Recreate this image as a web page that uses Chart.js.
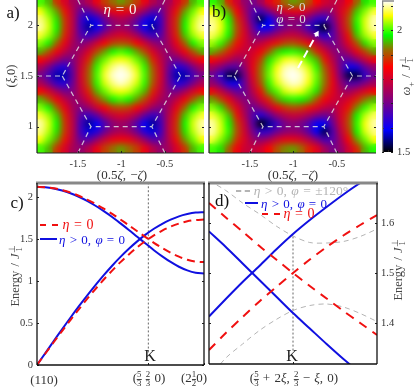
<!DOCTYPE html>
<html>
<head>
<meta charset="utf-8">
<script src="https://cdn.jsdelivr.net/npm/chart.js@4"></script>
<style>
  html, body { margin: 0; padding: 0; background: #fff; }
  #page { position: relative; width: 415px; height: 391px; overflow: hidden; font-family: "Liberation Serif", serif; }
  canvas { position: absolute; display: block; }
  .t { position: absolute; white-space: nowrap; transform: translate(-50%, -50%); line-height: 1; color: #333; word-spacing: 1px; }
  .fr, .su { display: inline-block; vertical-align: middle; text-align: center; line-height: 0.85; }
  .fr i, .su i { display: block; font-style: normal; font-size: 0.68em; }
  .fr i:first-child { border-bottom: 1px solid #444; }
  .key { position: absolute; height: 0; }
</style>
</head>
<body>
<div id="page">
  <canvas id="mapA" width="208" height="180" style="left:0;top:0"></canvas>
  <canvas id="mapB" width="178" height="180" style="left:205px;top:0"></canvas>
  <canvas id="bar" width="33" height="165" style="left:382px;top:0"></canvas>
  <canvas id="cutC" width="208" height="213" style="left:0;top:178px"></canvas>
  <canvas id="cutD" width="210" height="213" style="left:205px;top:178px"></canvas>
</div>
<script>
// colour map grid, one cell per column/row
const xCells = [-1.92,-1.828,-1.736,-1.644,-1.552,-1.46,-1.368,-1.276,-1.184,-1.092,-1,-0.908,-0.816,-0.724,-0.632,-0.54,-0.448,-0.356,-0.264,-0.172,-0.08];
const yCells = [2.213,2.134,2.055,1.975,1.896,1.817,1.737,1.658,1.579,1.5,1.421,1.342,1.263,1.183,1.104,1.025,0.945,0.866,0.787];

const heatA = [
  [2.00,1.95,1.88,1.81,1.75,1.73,1.77,1.83,1.89,1.92,1.94,1.92,1.89,1.83,1.77,1.73,1.75,1.81,1.88,1.95,2.00],
  [2.06,2.01,1.94,1.86,1.77,1.68,1.67,1.73,1.79,1.83,1.84,1.83,1.79,1.73,1.67,1.68,1.77,1.86,1.94,2.01,2.06],
  [2.09,2.04,1.97,1.88,1.78,1.65,1.58,1.62,1.69,1.74,1.76,1.74,1.69,1.62,1.58,1.65,1.78,1.88,1.97,2.04,2.09],
  [2.10,2.05,1.98,1.88,1.78,1.65,1.55,1.59,1.66,1.72,1.74,1.72,1.66,1.59,1.55,1.65,1.78,1.88,1.98,2.05,2.10],
  [2.07,2.03,1.96,1.87,1.77,1.67,1.64,1.68,1.75,1.79,1.81,1.79,1.75,1.68,1.64,1.67,1.77,1.87,1.96,2.03,2.07],
  [2.02,1.98,1.91,1.83,1.75,1.71,1.74,1.80,1.85,1.89,1.90,1.89,1.85,1.80,1.74,1.71,1.75,1.83,1.91,1.98,2.02],
  [1.95,1.90,1.84,1.78,1.73,1.75,1.81,1.89,1.94,1.98,2.00,1.98,1.94,1.89,1.81,1.75,1.73,1.78,1.84,1.90,1.95],
  [1.85,1.81,1.75,1.70,1.71,1.78,1.87,1.95,2.01,2.05,2.06,2.05,2.01,1.95,1.87,1.78,1.71,1.70,1.75,1.81,1.85],
  [1.76,1.70,1.64,1.62,1.69,1.80,1.90,1.99,2.05,2.09,2.11,2.09,2.05,1.99,1.90,1.80,1.69,1.62,1.64,1.70,1.76],
  [1.70,1.65,1.56,1.56,1.68,1.81,1.91,2.00,2.07,2.11,2.12,2.11,2.07,2.00,1.91,1.81,1.68,1.56,1.56,1.65,1.70],
  [1.76,1.70,1.64,1.62,1.69,1.80,1.90,1.99,2.05,2.09,2.11,2.09,2.05,1.99,1.90,1.80,1.69,1.62,1.64,1.70,1.76],
  [1.85,1.81,1.75,1.70,1.71,1.78,1.87,1.95,2.01,2.05,2.06,2.05,2.01,1.95,1.87,1.78,1.71,1.70,1.75,1.81,1.85],
  [1.95,1.90,1.84,1.78,1.73,1.75,1.81,1.89,1.94,1.98,2.00,1.98,1.94,1.89,1.81,1.75,1.73,1.78,1.84,1.90,1.95],
  [2.02,1.98,1.91,1.83,1.75,1.71,1.74,1.80,1.85,1.89,1.90,1.89,1.85,1.80,1.74,1.71,1.75,1.83,1.91,1.98,2.02],
  [2.07,2.03,1.96,1.87,1.77,1.67,1.64,1.68,1.75,1.79,1.81,1.79,1.75,1.68,1.64,1.67,1.77,1.87,1.96,2.03,2.07],
  [2.10,2.05,1.98,1.88,1.78,1.65,1.55,1.59,1.66,1.72,1.74,1.72,1.66,1.59,1.55,1.65,1.78,1.88,1.98,2.05,2.10],
  [2.09,2.04,1.97,1.88,1.78,1.65,1.58,1.62,1.69,1.74,1.76,1.74,1.69,1.62,1.58,1.65,1.78,1.88,1.97,2.04,2.09],
  [2.06,2.01,1.94,1.86,1.77,1.68,1.67,1.73,1.79,1.83,1.84,1.83,1.79,1.73,1.67,1.68,1.77,1.86,1.94,2.01,2.06],
  [2.00,1.95,1.88,1.81,1.75,1.73,1.77,1.83,1.89,1.92,1.94,1.92,1.89,1.83,1.77,1.73,1.75,1.81,1.88,1.95,2.00]
];

const heatB = [
  [1.99,1.95,1.87,1.80,1.73,1.70,1.75,1.82,1.87,1.92,1.94,1.93,1.90,1.85,1.80,1.78,1.79,1.84,1.91,1.97,2.00],
  [2.06,2.01,1.94,1.85,1.75,1.67,1.65,1.71,1.77,1.81,1.83,1.83,1.80,1.75,1.72,1.74,1.81,1.88,1.96,2.02,2.07],
  [2.09,2.05,1.98,1.88,1.78,1.66,1.52,1.59,1.67,1.72,1.73,1.72,1.69,1.64,1.63,1.70,1.80,1.90,1.99,2.05,2.10],
  [2.10,2.06,1.99,1.90,1.80,1.69,1.59,1.59,1.66,1.70,1.72,1.70,1.64,1.55,1.50,1.67,1.79,1.89,1.98,2.05,2.10],
  [2.08,2.04,1.98,1.89,1.81,1.72,1.69,1.71,1.75,1.78,1.79,1.77,1.73,1.67,1.62,1.67,1.76,1.86,1.96,2.03,2.07],
  [2.03,1.99,1.93,1.86,1.80,1.76,1.78,1.82,1.86,1.89,1.90,1.88,1.84,1.78,1.72,1.69,1.74,1.82,1.90,1.97,2.02],
  [1.95,1.92,1.87,1.81,1.78,1.80,1.84,1.90,1.96,1.98,1.99,1.97,1.94,1.87,1.80,1.73,1.71,1.76,1.83,1.89,1.94],
  [1.85,1.82,1.78,1.74,1.76,1.82,1.89,1.97,2.02,2.06,2.07,2.05,2.00,1.95,1.86,1.77,1.69,1.68,1.73,1.79,1.84],
  [1.75,1.71,1.67,1.67,1.73,1.83,1.92,2.00,2.06,2.10,2.11,2.09,2.05,1.99,1.90,1.80,1.69,1.60,1.61,1.68,1.73],
  [1.69,1.63,1.52,1.52,1.70,1.82,1.92,2.01,2.07,2.11,2.12,2.11,2.07,2.01,1.92,1.82,1.70,1.52,1.52,1.63,1.69],
  [1.73,1.68,1.61,1.60,1.69,1.80,1.90,1.99,2.05,2.09,2.11,2.10,2.06,2.00,1.92,1.83,1.73,1.67,1.67,1.71,1.75],
  [1.84,1.79,1.73,1.68,1.69,1.77,1.86,1.95,2.00,2.05,2.07,2.06,2.02,1.97,1.89,1.82,1.76,1.74,1.78,1.82,1.85],
  [1.94,1.89,1.83,1.76,1.71,1.73,1.80,1.87,1.94,1.97,1.99,1.98,1.96,1.90,1.84,1.80,1.78,1.81,1.87,1.92,1.95],
  [2.02,1.97,1.90,1.82,1.74,1.69,1.72,1.78,1.84,1.88,1.90,1.89,1.86,1.82,1.78,1.76,1.80,1.86,1.93,1.99,2.03],
  [2.07,2.03,1.96,1.86,1.76,1.67,1.62,1.67,1.73,1.77,1.79,1.78,1.75,1.71,1.69,1.72,1.81,1.89,1.98,2.04,2.08],
  [2.10,2.05,1.98,1.89,1.79,1.67,1.50,1.55,1.64,1.70,1.72,1.70,1.66,1.59,1.59,1.69,1.80,1.90,1.99,2.06,2.10],
  [2.10,2.05,1.99,1.90,1.80,1.70,1.63,1.64,1.69,1.72,1.73,1.72,1.67,1.59,1.52,1.66,1.78,1.88,1.98,2.05,2.09],
  [2.07,2.02,1.96,1.88,1.81,1.74,1.72,1.75,1.80,1.83,1.83,1.81,1.77,1.71,1.65,1.67,1.75,1.85,1.94,2.01,2.06],
  [2.00,1.97,1.91,1.84,1.79,1.78,1.80,1.85,1.90,1.93,1.94,1.92,1.87,1.82,1.75,1.70,1.73,1.80,1.87,1.95,1.99]
];

// colour bar stops, value and colour
const stopValues = [1.5, 1.59, 1.71, 1.85, 1.92, 1.98, 2.06, 2.12];
const stopColors = [[0,0,0],[0,0,255],[128,0,128],[255,0,0],[150,110,0],[0,255,0],[255,255,0],[255,255,255]];

// dashed zone boundary and arrow in the maps, null breaks the line
const hexX = [-1.97,-1.68,-1.35,-0.65,-0.32,-0.05,null,-1.68,-1.35,-0.65,-0.32,null,-1.5,-1.35,null,-0.5,-0.65,null,-1.5,-1.35,null,-0.5,-0.65];
const hexY = [1.5,1.5,2,2,1.5,1.5,null,1.5,1,1,1.5,null,2.25,2,null,2.25,2,null,0.74,1,null,0.74,1];
const arrowX = [-0.947,-0.73];
const arrowY = [1.579,1.916];

const mapXTicks = [-1.5,-1,-0.5];
const mapYTicks = [1,1.5,2];
const barTicks = [1.5,1.6,1.7,1.8,1.9,2,2.1];

// panel c, path (110) -> K -> (2 1/2 0)
const pathC = [0,0.05,0.1,0.15,0.2,0.25,0.3,0.35,0.4,0.45,0.5,0.55,0.6,0.65,0.7,0.75,0.8,0.85,0.9,0.95,1];
const redUpperC = [2.121,2.117,2.104,2.083,2.053,2.015,1.970,1.919,1.861,1.799,1.732,1.663,1.592,1.523,1.455,1.393,1.337,1.290,1.254,1.232,1.225];
const redLowerC = [0,0.137,0.271,0.404,0.535,0.662,0.786,0.905,1.018,1.124,1.225,1.317,1.402,1.477,1.543,1.600,1.647,1.684,1.711,1.727,1.732];
const blueUpperC = [2.121,2.117,2.102,2.078,2.045,2.003,1.954,1.896,1.832,1.762,1.686,1.608,1.527,1.447,1.367,1.294,1.227,1.170,1.127,1.099,1.090];
const blueLowerC = [0,0.142,0.285,0.425,0.563,0.697,0.826,0.951,1.070,1.182,1.287,1.384,1.472,1.552,1.622,1.681,1.730,1.770,1.797,1.815,1.820];
const cYTicks = [0,0.5,1,1.5,2];
const cXTicks = [0,0.6667,1];

// panel d, zoom around K
const pathD = [-0.05,-0.04,-0.03,-0.02,-0.01,0,0.01,0.02,0.03,0.04,0.05];
const redUpD = [1.346,1.380,1.412,1.443,1.472,1.500,1.527,1.552,1.575,1.596,1.616];
const redDownD = [1.640,1.611,1.583,1.554,1.527,1.500,1.474,1.449,1.424,1.400,1.376];
const blueUpD = [1.413,1.448,1.482,1.514,1.547,1.578,1.606,1.632,1.657,1.680,1.700];
const blueDownD = [1.583,1.552,1.519,1.486,1.453,1.420,1.389,1.358,1.328,1.300,1.272];
const greyUpperD = [1.685,1.665,1.640,1.618,1.594,1.574,1.561,1.560,1.563,1.573,1.588];
const greyLowerD = [1.290,1.330,1.358,1.385,1.407,1.425,1.435,1.438,1.432,1.419,1.403];
const dYTicks = [1.4,1.5,1.6];
const dXTicks = [0];

const tickFont = { family: "Liberation Serif", size: 10.5 };
const tickColor = "#333";

function heatColor(v) {
  let i = 0;
  while (i < stopValues.length - 2 && v > stopValues[i + 1]) i++;
  let f = (v - stopValues[i]) / (stopValues[i + 1] - stopValues[i]);
  f = Math.max(0, Math.min(1, f));
  const a = stopColors[i], b = stopColors[i + 1];
  return `rgb(${a[0] + (b[0] - a[0]) * f},${a[1] + (b[1] - a[1]) * f},${a[2] + (b[2] - a[2]) * f})`;
}

function points(xs, ys) {
  return xs.map((x, i) => ({ x: x, y: ys[i] }));
}

function line(xs, ys, color, width, dash) {
  return {
    type: "line",
    data: points(xs, ys),
    borderColor: color,
    borderWidth: width,
    borderDash: dash || [],
    pointRadius: 0,
    tension: 0.3,
    order: 1,
  };
}

// smooths the cells once they are on the canvas
const softenCells = {
  id: "softenCells",
  afterDatasetDraw(chart, args) {
    if (chart.data.datasets[args.index].order !== 2) return;
    const a = chart.chartArea, c = chart.ctx;
    const copy = document.createElement("canvas");
    copy.width = chart.canvas.width;
    copy.height = chart.canvas.height;
    copy.getContext("2d").drawImage(chart.canvas, 0, 0);
    c.save();
    c.beginPath();
    c.rect(a.left, a.top, a.right - a.left, a.bottom - a.top);
    c.clip();
    c.filter = "blur(3px)";
    c.drawImage(copy, 0, 0);
    c.restore();
  },
};

// frame sides and short inward tick marks
const frame = {
  id: "frame",
  afterDraw(chart, args, opts) {
    const a = chart.chartArea, c = chart.ctx;
    const sx = chart.scales.x, sy = chart.scales.y;
    c.save();
    c.strokeStyle = "#222";
    c.lineWidth = 1;
    if (sx.ticks) sx.ticks.forEach((t) => {
      const p = Math.round(sx.getPixelForValue(t.value)) + 0.5;
      c.beginPath(); c.moveTo(p, a.bottom); c.lineTo(p, a.bottom - 2); c.stroke();
    });
    sy.ticks.forEach((t) => {
      const p = Math.round(sy.getPixelForValue(t.value)) + 0.5;
      c.beginPath(); c.moveTo(a.left, p); c.lineTo(a.left + 2, p); c.stroke();
      c.beginPath(); c.moveTo(a.right, p); c.lineTo(a.right - 2, p); c.stroke();
    });
    (opts.sides || []).forEach((s) => {
      c.strokeStyle = s.color;
      c.lineWidth = s.width;
      c.beginPath();
      if (s.side === "left") { c.moveTo(a.left, a.top); c.lineTo(a.left, a.bottom); }
      if (s.side === "right") { c.moveTo(a.right, a.top); c.lineTo(a.right, a.bottom); }
      if (s.side === "top") { c.moveTo(a.left - 1, a.top); c.lineTo(a.right + 1, a.top); }
      if (s.side === "bottom") { c.moveTo(a.left, a.bottom); c.lineTo(a.right, a.bottom); }
      c.stroke();
    });
    c.restore();
  },
};

const plainSides = [
  { side: "left", color: "#222", width: 1.2 },
  { side: "bottom", color: "#222", width: 1.2 },
];
const cutSides = [
  { side: "top", color: "#888", width: 3 },
  { side: "left", color: "#111", width: 1.3 },
  { side: "right", color: "#111", width: 1.3 },
  { side: "bottom", color: "#111", width: 1.3 },
];

function setTicks(list) {
  return (scale) => { scale.ticks = list.map((v) => ({ value: v })); };
}

// keeps the plot box where it was asked to be, whatever the tick labels measure
function fixSize(prop, size) {
  return (s) => {
    s[prop] = size;
    s.paddingTop = 0; s.paddingBottom = 0; s.paddingLeft = 0; s.paddingRight = 0;
  };
}

const noGrid = { display: false, drawTicks: false };

function mapChart(id, heat, extra, padLeft, padRight, yWidth, showY) {
  const cells = [];
  yCells.forEach((y, r) => xCells.forEach((x, i) => cells.push({ x: x, y: y, v: heat[r][i] })));
  return new Chart(document.getElementById(id), {
    type: "scatter",
    data: {
      datasets: [{
        data: cells,
        pointStyle: "rect",
        pointRadius: 6.6,
        pointHoverRadius: 6.6,
        pointBorderWidth: 0,
        pointBackgroundColor: (ctx) => heatColor(ctx.raw ? ctx.raw.v : 1.5),
        order: 2,
      }].concat(extra),
    },
    options: {
      responsive: false,
      animation: false,
      layout: { autoPadding: false, padding: { left: padLeft, right: padRight, top: 0, bottom: 0 } },
      scales: {
        x: {
          type: "linear", min: -1.97, max: -0.05,
          afterBuildTicks: setTicks(mapXTicks),
          afterFit: fixSize("height", 27),
          grid: noGrid, border: { display: false },
          ticks: { font: tickFont, color: tickColor, padding: 5, maxRotation: 0, callback: (v) => String(v) },
        },
        y: {
          type: "linear", min: 0.74, max: 2.25,
          afterBuildTicks: setTicks(mapYTicks),
          afterFit: fixSize("width", yWidth),
          grid: noGrid, border: { display: false },
          ticks: { display: showY, font: tickFont, color: tickColor, padding: 4, callback: (v) => String(v) },
        },
      },
      plugins: { legend: { display: false }, tooltip: { enabled: false }, frame: { sides: plainSides } },
    },
    plugins: [softenCells, frame],
  });
}

function hexLine() {
  const d = line(hexX, hexY, "rgba(225,225,225,0.85)", 1.2, [5, 4]);
  d.tension = 0;
  return d;
}

const arrowLine = line(arrowX, arrowY, "#fff", 2, [8, 4]);
arrowLine.tension = 0;
arrowLine.pointStyle = "triangle";
arrowLine.pointRadius = [0, 3.5];
arrowLine.pointRotation = 30;
arrowLine.pointBackgroundColor = "#fff";
arrowLine.pointBorderWidth = 0;

mapChart("mapA", heatA, [hexLine()], 0, 4, 37, true);
mapChart("mapB", heatB, [arrowLine, hexLine()], 4, 7, 0, false);

new Chart(document.getElementById("bar"), {
  type: "bar",
  data: {
    labels: [""],
    datasets: [{
      data: [[1.5, 2.12]],
      barPercentage: 1,
      categoryPercentage: 1,
      backgroundColor: (ctx) => {
        const ch = ctx.chart;
        if (!ch.chartArea) return "#000";
        const sy = ch.scales.y;
        const g = ch.ctx.createLinearGradient(0, sy.getPixelForValue(1.5), 0, sy.getPixelForValue(2.12));
        stopValues.forEach((v) => g.addColorStop(Math.min(1, (v - 1.5) / 0.62), heatColor(v)));
        return g;
      },
    }],
  },
  options: {
    responsive: false,
    animation: false,
    layout: { autoPadding: false, padding: { top: 1, bottom: 13 } },
    scales: {
      x: { display: false },
      y: {
        position: "right", min: 1.5, max: 2.12,
        afterBuildTicks: setTicks(barTicks),
        afterFit: fixSize("width", 22),
        grid: noGrid, border: { display: false },
        ticks: {
          font: tickFont, color: tickColor, padding: 4, autoSkip: false,
          callback: (v) => (v === 2 || v === 1.5 ? String(v) : ""),
        },
      },
    },
    plugins: {
      legend: { display: false }, tooltip: { enabled: false },
      frame: { sides: [{ side: "left", color: "#888", width: 2.5 }, { side: "top", color: "#888", width: 1.5 }] },
    },
  },
  plugins: [frame],
});

function cutChart(id, datasets, xr, yr, xTicks, yTicks, opts) {
  new Chart(document.getElementById(id), {
    type: "scatter",
    data: { datasets: datasets },
    options: {
      responsive: false,
      animation: false,
      layout: { autoPadding: false, padding: opts.pad },
      scales: {
        x: {
          type: "linear", min: xr[0], max: xr[1],
          afterBuildTicks: setTicks(xTicks),
          afterFit: fixSize("height", opts.xHeight),
          grid: noGrid, border: { display: false },
          ticks: { display: false },
        },
        y: {
          type: "linear", position: opts.yPos, min: yr[0], max: yr[1],
          afterBuildTicks: setTicks(yTicks),
          afterFit: fixSize("width", opts.yWidth),
          grid: noGrid, border: { display: false },
          ticks: { font: tickFont, color: tickColor, padding: 4, callback: (v) => String(v) },
        },
      },
      plugins: { legend: { display: false }, tooltip: { enabled: false }, frame: { sides: cutSides } },
    },
    plugins: [frame],
  });
}

const kGuideC = line([0.6667, 0.6667], [0.15, 2.167], "#666", 1, [2, 2]);
cutChart("cutC", [
  line(pathC, redUpperC, "#f01010", 2, [8, 5]),
  line(pathC, redLowerC, "#f01010", 2, [8, 5]),
  line(pathC, blueUpperC, "#1010e0", 2),
  line(pathC, blueLowerC, "#1010e0", 2),
  kGuideC,
], [0, 1], [0, 2.167], cXTicks, cYTicks, { pad: { top: 5, right: 4 }, xHeight: 26, yWidth: 37, yPos: "left" });

const kGuideD = line([0, 0], [1.345, 1.575], "#666", 1, [2, 2]);
cutChart("cutD", [
  line(pathD, redUpD, "#f01010", 2, [9, 7]),
  line(pathD, redDownD, "#f01010", 2, [9, 7]),
  line(pathD, blueUpD, "#1010e0", 2),
  line(pathD, blueDownD, "#1010e0", 2),
  line(pathD, greyUpperD, "#b4b4b4", 1, [5, 4]),
  line(pathD, greyLowerD, "#b4b4b4", 1, [5, 4]),
  kGuideD,
], [-0.05, 0.05], [1.318, 1.68], dXTicks, dYTicks, { pad: { top: 5, left: 4 }, xHeight: 27, yWidth: 38, yPos: "right" });

// text on top of the charts
const page = document.getElementById("page");
function put(x, y, html, size, color, extra) {
  const d = document.createElement("div");
  d.className = "t";
  d.style.left = x + "px";
  d.style.top = y + "px";
  d.style.fontSize = size + "px";
  if (color) d.style.color = color;
  if (extra) d.style.transform = "translate(-50%,-50%) " + extra;
  d.innerHTML = html;
  page.appendChild(d);
}
function key(x, y, w, color, style) {
  const d = document.createElement("div");
  d.className = "key";
  d.style.left = x + "px";
  d.style.top = y + "px";
  d.style.width = w + "px";
  d.style.borderTop = `2px ${style} ${color}`;
  page.appendChild(d);
}
const frac = (a, b) => `<span class="fr"><i>${a}</i><i>${b}</i></span>`;
const J = '<i>J</i><span class="su"><i>⊥</i><i>1</i></span>';

put(13, 12, "a)", 17, "#111");
put(219, 11, "b)", 17, "#111");
put(120, 9, "<i>η</i> = 0", 15, "#f4f4f4");
put(291, 6, "<i>η</i> &gt; 0", 13, "#ddd");
put(291, 18, "<i>φ</i> = 0", 13, "#ddd");
put(11, 76, "(<i>ξ</i>,0)", 12.5, "#333", "rotate(-90deg)");
put(122, 174, "(0.5<i>ζ</i>, −<i>ζ</i>)", 13, "#333");
put(293, 174, "(0.5<i>ζ</i>, −<i>ζ</i>)", 13, "#333");
put(408, 76, `<i>ω</i><sub style="font-size:.7em">+</sub> / ${J}`, 12.5, "#444", "rotate(-90deg)");

put(16, 276, `Energy / ${J}`, 12.5, "#444", "rotate(-90deg)");
put(17, 202, "c)", 17, "#111");
key(40, 224, 18, "#f01010", "dashed");
put(78, 225, "<i>η</i> = 0", 14, "#f01010");
key(40, 238, 17, "#1010e0", "solid");
put(92, 239, "<i>η</i> &gt; 0, <i>φ</i> = 0", 13, "#1010e0");
put(150, 356, "K", 16, "#222");
put(44, 379, "(110)", 13, "#333");
put(149, 379, `(${frac(5, 3)} ${frac(2, 3)} 0)`, 13, "#333");
put(194, 379, `(2${frac(1, 2)}0)`, 13, "#333");

put(222, 200, "d)", 17, "#111");
key(236, 190, 14, "#b4b4b4", "dashed");
put(301, 191, "<i>η</i> &gt; 0, <i>φ</i> = ±120°", 13.5, "#b4b4b4");
key(245, 202, 13, "#1010e0", "solid");
put(294, 203, "<i>η</i> &gt; 0, <i>φ</i> = 0", 13, "#1010e0");
key(262, 213, 18, "#f01010", "dashed");
put(299, 214, "<i>η</i> = 0", 14, "#f01010");
put(292, 356, "K", 16, "#222");
put(294, 379, `(${frac(5, 3)} + 2<i>ξ</i>, ${frac(2, 3)} − <i>ξ</i>, 0)`, 13, "#333");
put(399, 270, `Energy / ${J}`, 12.5, "#444", "rotate(-90deg)");
</script>
</body>
</html>
